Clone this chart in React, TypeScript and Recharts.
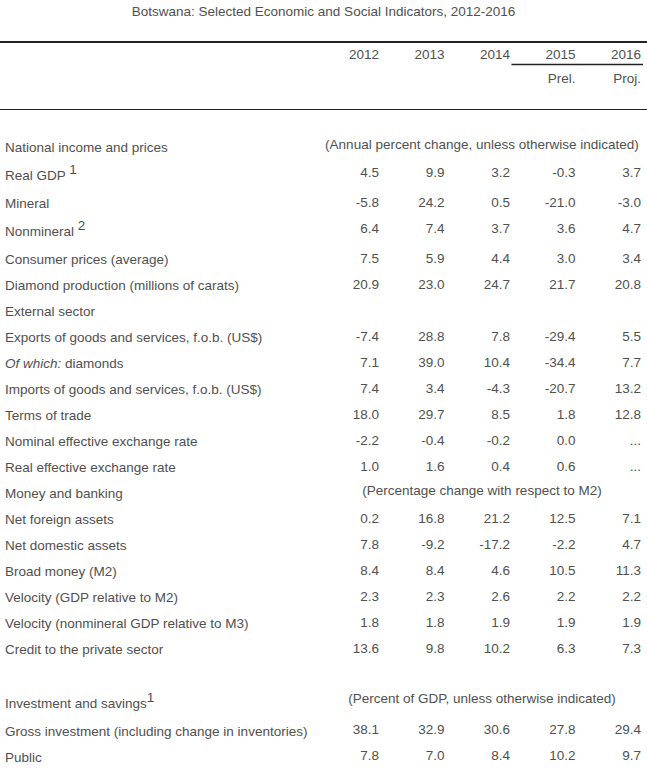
import { ScatterChart, Scatter, XAxis, YAxis } from 'recharts';

// ── Table content ────────────────────────────────────────────────────────────

const TITLE = 'Botswana: Selected Economic and Social Indicators, 2012-2016';

const years = [2012, 2013, 2014, 2015, 2016];
const yearNotes = ['', '', '', 'Prel.', 'Proj.'];

const rowLabels = [
  'National income and prices',
  'Real GDP',
  'Mineral',
  'Nonmineral',
  'Consumer prices (average)',
  'Diamond production (millions of carats)',
  'External sector',
  'Exports of goods and services, f.o.b. (US$)',
  'Of which: diamonds',
  'Imports of goods and services, f.o.b. (US$)',
  'Terms of trade',
  'Nominal effective exchange rate',
  'Real effective exchange rate',
  'Money and banking',
  'Net foreign assets',
  'Net domestic assets',
  'Broad money (M2)',
  'Velocity (GDP relative to M2)',
  'Velocity (nonmineral GDP relative to M3)',
  'Credit to the private sector',
  '',
  'Investment and savings',
  'Gross investment (including change in inventories)',
  'Public',
];

const headingRows = ['National income and prices', 'External sector', 'Money and banking', '', 'Investment and savings'];

const sectionNotes: Record<string, string> = {
  'National income and prices': '(Annual percent change, unless otherwise indicated)',
  'Money and banking': '(Percentage change with respect to M2)',
  'Investment and savings': '(Percent of GDP, unless otherwise indicated)',
};

const footnoteMarks: Record<string, string> = {
  'Real GDP': ' 1',
  'Nonmineral': ' 2',
  'Investment and savings': '1',
};

const ITALIC_PREFIX = 'Of which:';

// null in a data row = not available ("...")
const v2012 = [null, 4.5, -5.8, 6.4, 7.5, 20.9, null, -7.4, 7.1, 7.4, 18.0, -2.2, 1.0, null, 0.2, 7.8, 8.4, 2.3, 1.8, 13.6, null, null, 38.1, 7.8];
const v2013 = [null, 9.9, 24.2, 7.4, 5.9, 23.0, null, 28.8, 39.0, 3.4, 29.7, -0.4, 1.6, null, 16.8, -9.2, 8.4, 2.3, 1.8, 9.8, null, null, 32.9, 7.0];
const v2014 = [null, 3.2, 0.5, 3.7, 4.4, 24.7, null, 7.8, 10.4, -4.3, 8.5, -0.2, 0.4, null, 21.2, -17.2, 4.6, 2.6, 1.9, 10.2, null, null, 30.6, 8.4];
const v2015 = [null, -0.3, -21.0, 3.6, 3.0, 21.7, null, -29.4, -34.4, -20.7, 1.8, 0.0, 0.6, null, 12.5, -2.2, 10.5, 2.2, 1.9, 6.3, null, null, 27.8, 10.2];
const v2016 = [null, 3.7, -3.0, 4.7, 3.4, 20.8, null, 5.5, 7.7, 13.2, 12.8, null, null, null, 7.1, 4.7, 11.3, 2.2, 1.9, 7.3, null, null, 29.4, 9.7];

const valuesByYear = [v2012, v2013, v2014, v2015, v2016];

// ── Styling ──────────────────────────────────────────────────────────────────

const W = 647;
const H = 769;
const FONT = '"Liberation Sans", Arial, sans-serif';
const FONT_SIZE = 13.5;
const TEXT = '#505050';
const RULE = '#222';

// rows that carry a footnote mark are a bit taller than the rest
const rowSlot = (() => {
  let extra = 0;
  return rowLabels.map((label, i) => {
    const slot = i + extra;
    if (footnoteMarks[label]) extra += 0.15;
    return slot;
  });
})();

const labelData = rowLabels
  .map((label, i) => ({ x: years[0], y: rowSlot[i], label }))
  .filter((d) => d.label !== '');

const noteData = rowLabels
  .map((label, i) => ({ x: years[2], y: rowSlot[i], note: sectionNotes[label] }))
  .filter((d) => d.note);

const yearData = years.map((year, k) =>
  rowLabels
    .map((label, i) => ({ x: year, y: rowSlot[i], label, value: valuesByYear[k][i] }))
    .filter((d) => !headingRows.includes(d.label))
);

const textProps = { fontFamily: FONT, fontSize: FONT_SIZE, fill: TEXT };

function LabelCell(p: any) {
  const { cy, payload } = p;
  const label: string = payload.label;
  const mark = footnoteMarks[label];
  const italic = label.startsWith(ITALIC_PREFIX);
  return (
    <text x={5} y={cy + (mark ? 3 : 1.5)} dy="0.35em" textAnchor="start" style={{ whiteSpace: 'pre' }} {...textProps}>
      {italic ? (
        <>
          <tspan fontStyle="italic">{ITALIC_PREFIX}</tspan>
          <tspan>{label.slice(ITALIC_PREFIX.length)}</tspan>
        </>
      ) : (
        label
      )}
      {mark && <tspan dy={-6}>{mark}</tspan>}
    </text>
  );
}

function NoteCell(p: any) {
  const { cx, cy, payload } = p;
  return (
    <text x={cx - 28} y={cy - 2} dy="0.35em" textAnchor="middle" {...textProps}>
      {payload.note}
    </text>
  );
}

function ValueCell(p: any) {
  const { cx, cy, payload } = p;
  const v = payload.value;
  return (
    <text x={cx} y={cy} dy="0.35em" textAnchor="end" {...textProps}>
      {v == null ? '...' : v.toFixed(1)}
    </text>
  );
}

function YearTick(p: any) {
  const { x, payload } = p;
  const note = yearNotes[years.indexOf(payload.value)];
  return (
    <g>
      <text x={x} y={54} dy="0.35em" textAnchor="end" {...textProps}>{payload.value}</text>
      {note && <line x1={x - 64} x2={x + 2} y1={64.5} y2={64.5} stroke={RULE} strokeWidth={1.5} />}
      {note && <text x={x} y={78} dy="0.35em" textAnchor="end" {...textProps}>{note}</text>}
    </g>
  );
}

export default function App() {
  return (
    <div style={{ position: 'absolute', left: 0, top: 0, width: W, height: H, background: '#fff', fontFamily: FONT }}>
      <div style={{ position: 'absolute', left: 0, top: 4, width: W, textAlign: 'center', fontSize: FONT_SIZE, lineHeight: '16px', color: TEXT }}>
        {TITLE}
      </div>
      <div style={{ position: 'absolute', left: 0, top: 41, width: W, height: 1.5, background: RULE }} />
      <div style={{ position: 'absolute', left: 0, top: 108.5, width: W, height: 1.5, background: RULE }} />
      <div style={{ position: 'absolute', left: 0, top: 0 }}>
        <ScatterChart width={W} height={H} margin={{ top: 0, right: 0, bottom: 0, left: 0 }}>
          <XAxis
            type="number"
            dataKey="x"
            orientation="top"
            height={120}
            domain={[2006.214, 2016.092]}
            allowDataOverflow
            ticks={years}
            interval={0}
            axisLine={false}
            tickLine={false}
            tick={(props: any) => <YearTick {...props} />}
          />
          <YAxis type="number" dataKey="y" domain={[-1, 23.9615]} reversed hide allowDataOverflow />
          <Scatter data={labelData} isAnimationActive={false} shape={(p: any) => <LabelCell {...p} />} />
          <Scatter data={noteData} isAnimationActive={false} shape={(p: any) => <NoteCell {...p} />} />
          {yearData.map((d, k) => (
            <Scatter key={years[k]} data={d} isAnimationActive={false} shape={(p: any) => <ValueCell {...p} />} />
          ))}
        </ScatterChart>
      </div>
    </div>
  );
}
